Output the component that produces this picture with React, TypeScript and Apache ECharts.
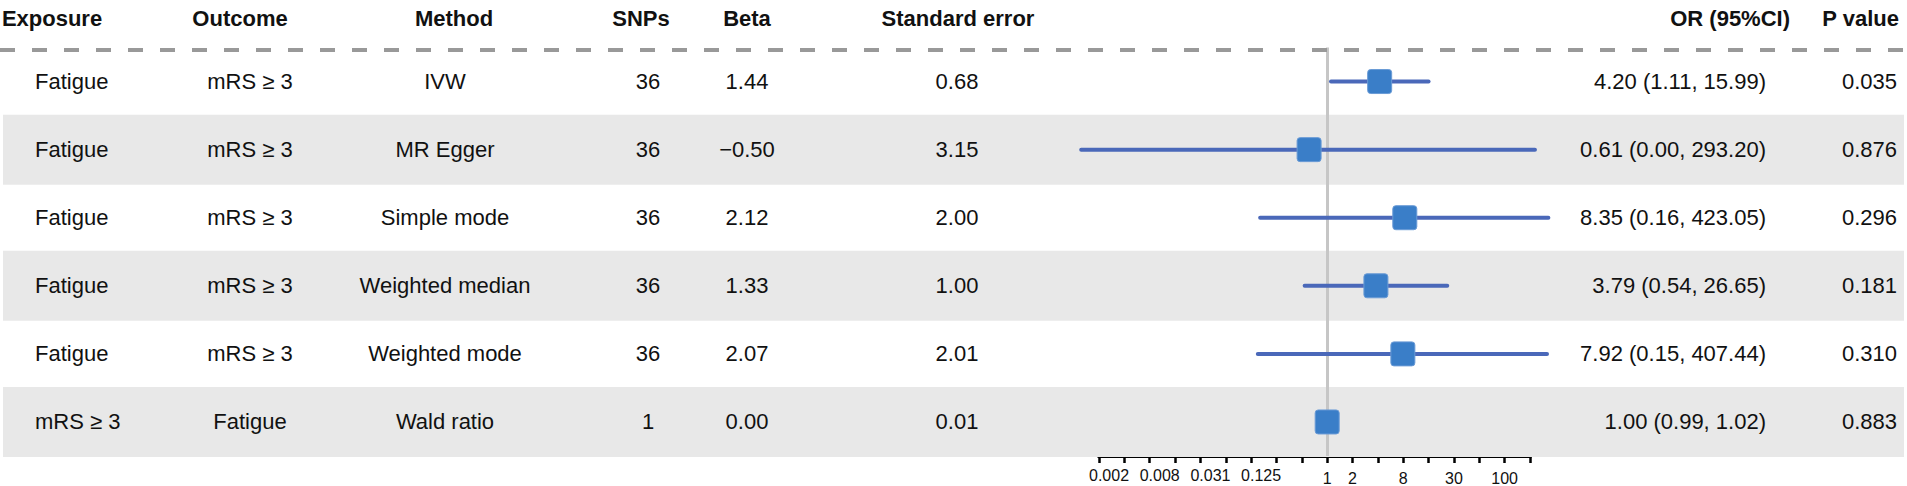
import React, { useEffect, useRef } from "react";
import * as echarts from "echarts";

// ---------- data ----------
const exposures = ["Fatigue", "Fatigue", "Fatigue", "Fatigue", "Fatigue", "mRS ≥ 3"];
const outcomes = ["mRS ≥ 3", "mRS ≥ 3", "mRS ≥ 3", "mRS ≥ 3", "mRS ≥ 3", "Fatigue"];
const methods = ["IVW", "MR Egger", "Simple mode", "Weighted median", "Weighted mode", "Wald ratio"];
const snps = ["36", "36", "36", "36", "36", "1"];
const betas = ["1.44", "−0.50", "2.12", "1.33", "2.07", "0.00"];
const standardErrors = ["0.68", "3.15", "2.00", "1.00", "2.01", "0.01"];
const orValues = [4.2, 0.61, 8.35, 3.79, 7.92, 1.0];
const ciLower = [1.11, 0.0012, 0.16, 0.54, 0.15, 0.99];
const ciUpper = [15.99, 293.2, 423.05, 26.65, 407.44, 1.02];
const orLabels = [
  "4.20 (1.11, 15.99)",
  "0.61 (0.00, 293.20)",
  "8.35 (0.16, 423.05)",
  "3.79 (0.54, 26.65)",
  "7.92 (0.15, 407.44)",
  "1.00 (0.99, 1.02)",
];
const pValues = ["0.035", "0.876", "0.296", "0.181", "0.310", "0.883"];
const headers = ["Exposure", "Outcome", "Method", "SNPs", "Beta", "Standard error", "OR (95%CI)", "P value"];
// x axis: log2 scale, ticks at 2^-9 ... 2^8
const tickExponentMin = -9;
const tickExponentMax = 8;
const tickLabels = ["0.002", "", "0.008", "", "0.031", "", "0.125", "", "", "1", "2", "", "8", "", "30", "", "100", ""];
const shadedRows = [2, 4, 6];

// ---------- layout ----------
const W = 1907;
const H = 486;
const FONT = "'Liberation Sans', Arial, Helvetica, sans-serif";
const FS = 22;
const TEXT_COLOR = "#111111";
// [x, align] per column
const headerCols: [number, string][] = [
  [52, "center"], [240, "center"], [454, "center"], [641, "center"],
  [747, "center"], [958, "center"], [1790, "right"], [1899, "right"],
];
const bodyCols: [number, string][] = [
  [35, "left"], [250, "center"], [445, "center"], [648, "center"],
  [747, "center"], [957, "center"], [1766, "right"], [1897, "right"],
];

export default function App() {
  const ref = useRef<HTMLDivElement>(null);
  useEffect(() => {
    document.body.style.margin = "0";
    if (!ref.current) return;
    const chart = echarts.init(ref.current, null, { renderer: "svg" });

    const rowsData = orValues.map((v, i) => [i + 1, Math.log2(v), Math.log2(ciLower[i]), Math.log2(ciUpper[i])]);
    const tableData = orValues.map((_, i) => [i + 1]);
    const columns = [exposures, outcomes, methods, snps, betas, standardErrors, orLabels, pValues];

    const option: any = {
      animation: false,
      backgroundColor: "#ffffff",
      grid: { left: 1099, top: 47.5, width: 431, height: 410 },
      xAxis: {
        type: "value",
        min: tickExponentMin,
        max: tickExponentMax,
        interval: 1,
        splitLine: { show: false },
        axisLine: { show: true, onZero: false, lineStyle: { color: "#000", width: 3, cap: "square" } },
        axisTick: { show: true, length: 7, lineStyle: { color: "#000", width: 2.5 } },
        axisLabel: {
          show: true,
          margin: 11,
          color: "#111",
          fontFamily: FONT,
          fontSize: 16,
          showMinLabel: true,
          showMaxLabel: true,
          formatter: (v: number) => {
            const t = tickLabels[Math.round(v) - tickExponentMin];
            if (!t) return "";
            return t.indexOf(".") >= 0 ? `{d|${t}}` : `{n|${t}}`;
          },
          rich: {
            d: { fontSize: 16, fontFamily: FONT, color: "#111", padding: [0, 0, 0, 20] },
            n: { fontSize: 16, fontFamily: FONT, color: "#111", padding: [3, 0, 0, 0] },
          },
        },
      },
      yAxis: { type: "value", min: 0.5, max: 6.5, inverse: true, show: false },
      graphic: [
        {
          type: "line",
          z: 50,
          shape: { x1: 0, y1: 50, x2: W, y2: 50 },
          style: { stroke: "#999999", lineWidth: 4, lineDash: [15, 17] },
        },
        ...headers.map((h, i) => ({
          type: "text",
          x: headerCols[i][0],
          y: 18,
          style: {
            text: h,
            fontFamily: FONT,
            fontSize: FS,
            fontWeight: "bold",
            fill: TEXT_COLOR,
            align: headerCols[i][1],
            verticalAlign: "middle",
          },
        })),
      ],
      series: [
        {
          type: "custom",
          name: "bands",
          z: 1,
          clip: false,
          silent: true,
          data: shadedRows.map((r) => [r]),
          encode: { y: 0 },
          renderItem: (params: any, api: any) => {
            const c = api.coord([0, api.value(0)]);
            return {
              type: "rect",
              shape: { x: 3, y: c[1] - 35, width: W - 6, height: 70 },
              style: { fill: "#E8E8E8" },
            };
          },
          markLine: {
            silent: true,
            symbol: "none",
            label: { show: false },
            lineStyle: { color: "#C6C6C6", width: 3, type: "solid" },
            data: [{ xAxis: 0 }],
          },
        },
        {
          type: "custom",
          name: "table",
          z: 3,
          clip: false,
          silent: true,
          data: tableData,
          encode: { y: 0 },
          renderItem: (params: any, api: any) => {
            const row = api.value(0);
            const idx = row - 1;
            const y = api.coord([0, row])[1];
            return {
              type: "group",
              children: columns.map((col, ci) => ({
                type: "text",
                x: bodyCols[ci][0],
                y,
                style: {
                  text: col[idx],
                  fontFamily: FONT,
                  fontSize: FS,
                  fill: TEXT_COLOR,
                  align: bodyCols[ci][1],
                  verticalAlign: "middle",
                },
              })),
            };
          },
        },
        {
          type: "custom",
          name: "forest",
          z: 5,
          clip: false,
          silent: true,
          data: rowsData,
          encode: { x: [1, 2, 3], y: 0 },
          renderItem: (params: any, api: any) => {
            const row = api.value(0);
            const c = api.coord([api.value(1), row]);
            const lo = api.coord([api.value(2), row]);
            const hi = api.coord([api.value(3), row]);
            const s = 24;
            return {
              type: "group",
              children: [
                {
                  type: "line",
                  shape: { x1: lo[0], y1: lo[1], x2: hi[0], y2: hi[1] },
                  style: { stroke: "#4A68B9", lineWidth: 4, lineCap: "round" },
                },
                {
                  type: "rect",
                  shape: { x: c[0] - s / 2, y: c[1] - s / 2, width: s, height: s, r: 3 },
                  style: { fill: "#3A7EC8", stroke: "#6A9BD6", lineWidth: 1 },
                },
              ],
            };
          },
        },
      ],
    };
    chart.setOption(option);
    return () => chart.dispose();
  }, []);
  return <div ref={ref} style={{ width: W, height: H }} />;
}
